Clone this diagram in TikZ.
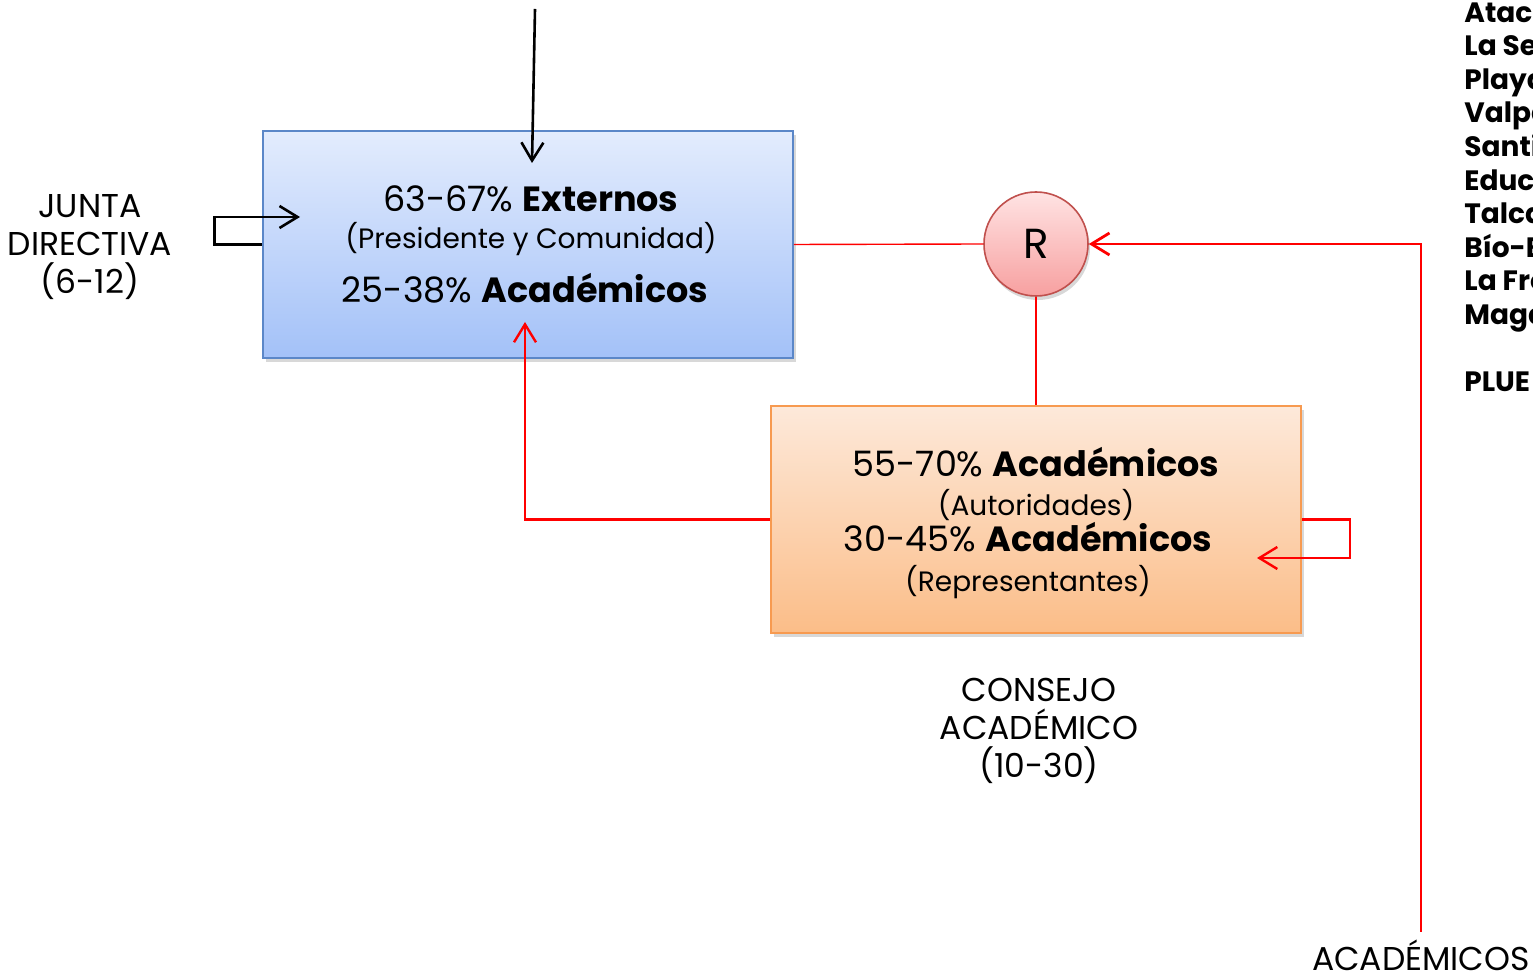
\documentclass[tikz,border=0pt]{standalone}
\usepackage{fontspec}
\setmainfont{Poppins}
\usetikzlibrary{arrows.meta,positioning,shadows}
\definecolor{jdborder}{HTML}{5B87C8}
\definecolor{jdtop}{HTML}{E3ECFD}
\definecolor{jdbottom}{HTML}{A3C1F8}
\definecolor{caborder}{HTML}{F79A50}
\definecolor{catop}{HTML}{FDE9DA}
\definecolor{cabottom}{HTML}{FBBD88}
\definecolor{rborder}{HTML}{C0504D}
\definecolor{rtop}{HTML}{FFE3E3}
\definecolor{rbottom}{HTML}{F7A0A0}
\tikzset{>={Straight Barb[length=9pt,width=11pt]}}
\tikzset{
    organo/.style={rectangle,minimum width=265pt,minimum height=113.5pt,line width=0.8pt,
        drop shadow={shadow xshift=1.5pt,shadow yshift=-2pt,opacity=0.3}},
    junta/.style={organo,draw=jdborder,top color=jdtop,bottom color=jdbottom},
    consejo/.style={organo,draw=caborder,top color=catop,bottom color=cabottom},
    rector/.style={circle,minimum size=52pt,line width=0.8pt,draw=rborder,
        top color=rtop,bottom color=rbottom,font=\fontsize{21}{24}\selectfont,
        drop shadow={shadow xshift=1pt,shadow yshift=-2pt,opacity=0.3}},
    grande/.style={inner sep=0pt,anchor=base,font=\fontsize{17.5}{20}\selectfont},
    chico/.style={inner sep=0pt,anchor=base,font=\fontsize{14}{17}\selectfont},
    rotulo/.style={inner sep=0pt,align=center,font=\fontsize{16.5}{19}\selectfont},
    rojo/.style={draw=red,line width=1.2pt},
    rojofino/.style={draw=red,line width=0.7pt},
    negro/.style={draw=black,line width=1.3pt}
}
\begin{document}
\begin{tikzpicture}[x=0.5pt,y=-0.5pt]
    \useasboundingbox[fill=white] (0,0) rectangle (1533,977);
    \node[junta] (jd) at (528,244.5) {};
    \node[consejo] (ca) at (1036,519.5) {};
    \node[rector] (r) at (1036,244) {R};

    \node[grande] (ext) at (531,212) {63-67\% \textbf{Externos}};
    \node[chico] (pres) at (531,249) {(Presidente y Comunidad)};
    \node[grande] (acj) at (525,303) {25-38\% \textbf{Académicos}};

    \node[grande] (aut) at (1036,477) {55-70\% \textbf{Académicos}};
    \node[chico] (autp) at (1036,516) {(Autoridades)};
    \node[grande] (rep) at (1028,552) {30-45\% \textbf{Académicos}};
    \node[chico] (repp) at (1028,592) {(Representantes)};

    \node[rotulo] (jdtxt) at (90,247) {JUNTA\\DIRECTIVA\\(6-12)};
    \node[rotulo] (catxt) at (1039,731) {CONSEJO\\ACADÉMICO\\(10-30)};
    \node[rotulo,anchor=base] (acad) at (1421,971) {ACADÉMICOS};

    \begin{scope}
        \clip (1440,0) rectangle (1533,420);
        \node[inner sep=0pt,anchor=north west,align=left,
            font=\fontsize{14}{16.8}\selectfont\bfseries] (univ) at (1464,2)
            {Atacama\\La Serena\\Playa Ancha\\Valparaíso\\Santiago\\Educación\\Talca\\Bío-Bío\\La Frontera\\Magallanes\\[16.8pt]PLUE};
    \end{scope}

    \coordinate (entra) at (535,9);
    \coordinate (jdarriba) at (532,163);
    \coordinate (jdizq) at (300,217);
    \coordinate (jdabajo) at (525,322);
    \coordinate (caloop) at (1257,558);
    \coordinate (acadtop) at (1421,932);

    \draw[negro,->] (entra) -- (jdarriba);
    \draw[negro,->] (jd.west) -- ++(-48,0) |- (jdizq);
    \draw[rojofino] (jd.east) -- (r.west);
    \draw[rojofino] (r.south) -- (ca.north);
    \draw[rojo,->] (ca.west) -| (jdabajo);
    \draw[rojo,->] (ca.east) -- ++(48,0) |- (caloop);
    \draw[rojo,line width=1.4pt,->] (acadtop) |- (r.east);
\end{tikzpicture}
\end{document}
